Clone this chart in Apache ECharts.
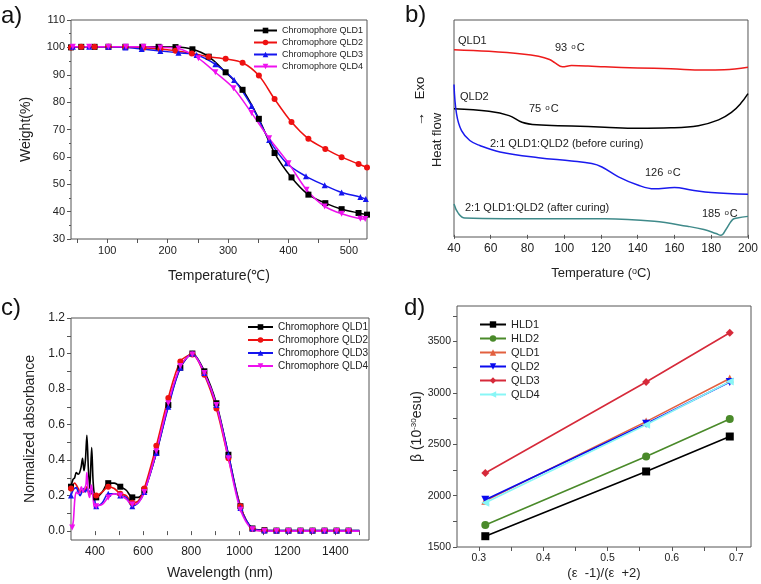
<!DOCTYPE html>
<html>
<head>
<meta charset="utf-8">
<script src="https://cdn.jsdelivr.net/npm/echarts@6/dist/echarts.min.js"></script>
<style>html,body{margin:0;padding:0;background:#fff}#main{width:761px;height:584px}</style>
</head>
<body>
<div id="main"></div>
<script>
// ---- data: a) TGA ----
var tgaNames = ['Chromophore QLD1', 'Chromophore QLD2', 'Chromophore QLD3', 'Chromophore QLD4'];
var tgaQLD1 = [[40,100],[57,100.2],[79,100.2],[102,100.2],[130,100.2],[158,100.2],[185,100.2],[213,100.1],[241,99.3],[268,96.6],[296,90.9],[324,84.5],[351,73.9],[377,61.4],[405,52.5],[433,46.2],[461,43.1],[488,40.9],[516,39.5],[530,38.9]];
var tgaQLD2 = [[40,100],[57,100.2],[79,100.2],[102,100.2],[130,100.1],[160,99.9],[188,99.4],[213,98.8],[240,97.8],[268,96.6],[296,95.8],[324,94.4],[351,89.7],[377,81.1],[405,72.7],[433,66.6],[461,62.9],[488,59.9],[516,57.4],[530,56.1]];
var tgaQLD3 = [[43,100.2],[70,100.2],[102,100.2],[130,100],[157,99.4],[188,98.7],[218,98],[248,97.2],[279,93.8],[310,88.1],[339,78.6],[368,66.2],[397,57.7],[429,52.9],[460,49.6],[488,47],[519,45.3],[528,44.6]];
var tgaQLD4 = [[43,100.2],[70,100.2],[102,100.2],[131,100.2],[160,100.2],[188,100],[218,99.6],[251,96],[279,90.9],[309,85.1],[339,76],[368,66.8],[400,57.7],[430,48],[460,41.9],[488,39.2],[519,37.4],[527,37.3]];

// ---- data: b) DSC (arbitrary heat flow units) ----
var dscQLD1 = [[40,86.2],[59,85.4],[77,84.2],[86,83.1],[92,81.6],[95,80.0],[99,78.2],[104,78.8],[113,78.6],[122,78.2],[140,77.7],[158,77.3],[176,76.7],[187,76.8],[200,78.0]];
var dscQLD2 = [[40,58.7],[59,57.5],[70,55.5],[77,52.4],[85,51.2],[104,50.7],[122,50.1],[140,49.6],[158,49.8],[173,50.8],[184,53.5],[191,57],[196,61.1],[200,65.7]];
var dscBefore = [[40,70],[41.4,56.2],[44.1,48.5],[48.6,43.9],[54,41.6],[65,38.6],[86,35.9],[104,34.4],[115,33.2],[120.5,31.6],[129.5,27],[140,23.2],[149,21.4],[160,22],[169,20.9],[180,19.7],[200,18.9]];
var dscAfter = [[40,14.4],[42.3,10.1],[45.9,7.8],[68,7.5],[122,7.5],[149,6.3],[167,4],[176,2.5],[182.6,0.6],[185.3,-0.2],[188,2.5],[191.6,7.1],[194.2,7.8],[200,8.6]];

// ---- data: c) UV-vis ----
var uvQLD1 = [[300,0.25],[308,0.29],[315,0.30],[322,0.33],[330,0.32],[336,0.33],[342,0.36],[348,0.41],[354,0.34],[360,0.40],[366,0.54],[372,0.36],[378,0.24],[386,0.47],[392,0.28],[398,0.20],[405,0.19],[430,0.22],[455,0.27],[480,0.27],[505,0.25],[530,0.23],[555,0.19],[580,0.19],[605,0.23],[655,0.44],[705,0.71],[755,0.92],[805,1.0],[855,0.90],[905,0.72],[955,0.43],[1005,0.14],[1055,0.015],[1105,0.005],[1155,0.003],[1205,0.003],[1255,0.003],[1305,0.003],[1355,0.003],[1405,0.003],[1455,0.003],[1500,0.003]];
var uvQLD2 = [[300,0.24],[308,0.26],[315,0.27],[322,0.26],[330,0.24],[338,0.22],[345,0.23],[352,0.22],[360,0.23],[366,0.25],[372,0.22],[380,0.21],[388,0.21],[396,0.20],[405,0.20],[430,0.22],[455,0.25],[480,0.24],[505,0.21],[530,0.20],[555,0.16],[580,0.17],[605,0.24],[655,0.48],[705,0.75],[755,0.955],[805,0.995],[855,0.88],[905,0.69],[955,0.41],[1005,0.14],[1055,0.012],[1105,0.003],[1155,0.002],[1205,0.002],[1255,0.002],[1305,0.002],[1355,0.002],[1405,0.002],[1455,0.002],[1500,0.002]];
var uvQLD3 = [[300,0.20],[308,0.23],[315,0.24],[322,0.245],[330,0.22],[338,0.20],[345,0.22],[352,0.24],[360,0.22],[368,0.24],[375,0.22],[382,0.23],[390,0.21],[398,0.18],[405,0.14],[430,0.16],[455,0.21],[480,0.21],[505,0.20],[530,0.19],[555,0.14],[580,0.16],[605,0.22],[655,0.44],[705,0.70],[755,0.92],[805,1.0],[855,0.89],[905,0.71],[955,0.43],[1005,0.13],[1055,0.015],[1105,0.003],[1155,0.003],[1205,0.003],[1255,0.003],[1305,0.003],[1355,0.003],[1405,0.003],[1455,0.003],[1500,0.003]];
var uvQLD4 = [[305,0.02],[310,0.06],[316,0.18],[322,0.22],[330,0.21],[336,0.22],[343,0.25],[350,0.22],[356,0.24],[362,0.26],[366,0.33],[372,0.22],[378,0.19],[384,0.26],[388,0.24],[394,0.16],[398,0.13],[405,0.14],[430,0.15],[455,0.19],[480,0.21],[505,0.20],[530,0.18],[555,0.15],[580,0.16],[605,0.22],[655,0.45],[705,0.72],[755,0.93],[805,0.995],[855,0.89],[905,0.71],[955,0.41],[1005,0.12],[1055,0.01],[1105,0.001],[1155,0],[1205,0],[1255,0],[1305,0],[1355,0],[1405,0],[1455,0],[1500,0]];

// ---- data: d) beta vs solvent polarity ----
var polarity = [0.31, 0.56, 0.69];
var betaNames = ['HLD1', 'HLD2', 'QLD1', 'QLD2', 'QLD3', 'QLD4'];
var betaHLD1 = [1605, 2235, 2575];
var betaHLD2 = [1715, 2380, 2745];
var betaQLD1 = [1950, 2720, 3140];
var betaQLD2 = [1960, 2700, 3105];
var betaQLD3 = [2220, 3105, 3585];
var betaQLD4 = [1930, 2690, 3110];

// tick labels
var tgaXTicks = [100, 200, 300, 400, 500];
var uvXTicks = [400, 600, 800, 1000, 1200, 1400];
var uvYTicks = [0, 0.2, 0.4, 0.6, 0.8, 1.0, 1.2];
var betaXTicks = [0.3, 0.4, 0.5, 0.6, 0.7];
var betaYTicks = [1500, 2000, 2500, 3000, 3500];

var FONT = 'Liberation Sans, Arial, sans-serif';
var TXT = '#222';
const Chart = echarts.init(document.getElementById('main'), null, {renderer: 'canvas'});

function plain(v) { return String(v); }

function valAxis(grid, opt) {
    var ax = {
        type: 'value',
        gridIndex: grid,
        scale: true,
        axisLine: {show: false},
        splitLine: {show: false},
        axisTick: {show: true, inside: false, length: 4, lineStyle: {color: '#555'}},
        axisLabel: {color: TXT, fontFamily: FONT, fontSize: 11, margin: 6, formatter: plain},
        nameLocation: 'middle',
        nameTextStyle: {color: TXT, fontFamily: FONT, fontSize: 14}
    };
    return echarts.util.merge(ax, opt, true);
}

function lineSeries(name, data, xi, color, symbol, rot, size, width) {
    return {
        type: 'line', name: name, data: data,
        xAxisIndex: xi, yAxisIndex: xi,
        smooth: 0.3,
        symbol: symbol, symbolRotate: rot, symbolSize: size,
        lineStyle: {color: color, width: width},
        itemStyle: {color: color},
        emphasis: {disabled: true},
        z: 3
    };
}

// only every 50 nm gets a marker in c)
function markEvery(arr) {
    return arr.map(function (p, i) {
        var keep = i === 0 || (p[0] >= 400 && (p[0] - 5) % 50 === 0);
        return keep ? {value: p} : {value: p, symbol: 'none'};
    });
}

var cols = ['#000000', '#ee1111', '#1515ee', '#ee11ee'];
var syms = ['rect', 'circle', 'triangle', 'triangle'];
var rots = [0, 0, 0, 180];
var tgaData = [tgaQLD1, tgaQLD2, tgaQLD3, tgaQLD4];
var uvData = [uvQLD1, uvQLD2, uvQLD3, uvQLD4];
var betaData = [betaHLD1, betaHLD2, betaQLD1, betaQLD2, betaQLD3, betaQLD4];
var betaCols = ['#000000', '#4a8a2a', '#e2603f', '#0a0aee', '#d62a3a', '#88f6f6'];
var betaSyms = ['rect', 'circle', 'triangle', 'triangle', 'diamond', 'triangle'];
var betaRots = [0, 0, 0, 180, 0, 90];

var series = [];
tgaData.forEach(function (d, i) {
    series.push(lineSeries(tgaNames[i], d, 0, cols[i], syms[i], rots[i], 6, 1.5));
});
uvData.forEach(function (d, i) {
    series.push(lineSeries(tgaNames[i], markEvery(d), 2, cols[i], syms[i], rots[i], 6, 1.6));
});
betaData.forEach(function (d, i) {
    var s = lineSeries(betaNames[i], d.map(function (v, j) { return [polarity[j], v]; }), 3,
        betaCols[i], betaSyms[i], betaRots[i], 8, 1.6);
    s.smooth = false;
    series.push(s);
});
var dscCols = ['#ee1c1c', '#000000', '#1a1aee', '#3f8a8a'];
[dscQLD1, dscQLD2, dscBefore, dscAfter].forEach(function (d, i) {
    var s = lineSeries('DSC ' + i, d, 1, dscCols[i], 'none', 0, 0, 1.5);
    s.smooth = 0.4;
    series.push(s);
});

var supRich = {s: {fontSize: 8, fontFamily: FONT, color: TXT, verticalAlign: 'top', padding: [0, 1, 0, 1]},
               n: {fontSize: 11, fontFamily: FONT, color: TXT}};
function note(x, y, txt) {
    return {type: 'text', x: x, y: y, z: 10,
        style: {text: txt, fill: TXT, font: '11px ' + FONT, textVerticalAlign: 'middle', rich: supRich}};
}
function panelTag(x, y, t) {
    return {type: 'text', x: x, y: y, z: 10, style: {text: t, fill: '#111', font: '24px ' + FONT}};
}

var option = {
    animation: false,
    backgroundColor: '#fff',
    grid: [
        {left: 71, top: 20, width: 296, height: 219, show: true, borderColor: '#555', borderWidth: 1},
        {left: 454, top: 20, width: 297, height: 217, show: true, borderColor: '#555', borderWidth: 1},
        {left: 71, top: 318, width: 298, height: 222, show: true, borderColor: '#555', borderWidth: 1},
        {left: 457, top: 306, width: 294, height: 241, show: true, borderColor: '#555', borderWidth: 1}
    ],
    xAxis: [
        valAxis(0, {min: 40, max: 530, name: 'Temperature(℃)', nameGap: 30,
            axisLabel: {customValues: tgaXTicks},
            axisTick: {customValues: [50, 100, 150, 200, 250, 300, 350, 400, 450, 500]}}),
        valAxis(1, {min: 40, max: 200, interval: 20, name: 'Temperature ({s|o}C)', nameGap: 30,
            axisLabel: {fontSize: 12},
            nameTextStyle: {fontSize: 13, rich: {s: {fontSize: 9, fontFamily: FONT, color: TXT, verticalAlign: 'top'}}}}),
        valAxis(2, {min: 300, max: 1540, name: 'Wavelength (nm)', nameGap: 26,
            axisLabel: {customValues: uvXTicks, fontSize: 12},
            axisTick: {customValues: [400, 500, 600, 700, 800, 900, 1000, 1100, 1200, 1300, 1400, 1500]}}),
        valAxis(3, {min: 0.266, max: 0.723, name: '(ε  -1)/(ε  +2)', nameGap: 20,
            axisLabel: {customValues: betaXTicks, fontSize: 10.5, formatter: function (v) { return v.toFixed(1); }},
            axisTick: {customValues: [0.3, 0.35, 0.4, 0.45, 0.5, 0.55, 0.6, 0.65, 0.7]},
            nameTextStyle: {fontSize: 13}})
    ],
    yAxis: [
        valAxis(0, {min: 30, max: 110, interval: 10, name: 'Weight(%)', nameGap: 38,
            minorTick: {show: true, splitNumber: 2, length: 2, lineStyle: {color: '#555'}}}),
        valAxis(1, {min: -1, max: 100, axisLabel: {show: false}, axisTick: {show: false}}),
        valAxis(2, {min: -0.05, max: 1.2, name: 'Normalized absorbance', nameGap: 34,
            axisLabel: {customValues: uvYTicks, fontSize: 12, formatter: function (v) { return v.toFixed(1); }},
            axisTick: {customValues: [0, 0.1, 0.2, 0.3, 0.4, 0.5, 0.6, 0.7, 0.8, 0.9, 1.0, 1.1, 1.2]}}),
        valAxis(3, {min: 1500, max: 3845, name: 'β (10{s|-30}esu)', nameGap: 32,
            axisLabel: {customValues: betaYTicks, fontSize: 10.5},
            axisTick: {customValues: [1500, 1750, 2000, 2250, 2500, 2750, 3000, 3250, 3500, 3750]},
            nameTextStyle: {fontSize: 14, rich: {s: {fontSize: 8, fontFamily: FONT, color: TXT, verticalAlign: 'top'}}}})
    ],
    legend: [
        {data: tgaNames, orient: 'vertical', left: 253, top: 26, padding: 0, itemWidth: 23, itemHeight: 7, itemGap: 3,
            textStyle: {fontSize: 9, color: TXT, fontFamily: FONT}},
        {data: tgaNames, orient: 'vertical', left: 247, top: 322, padding: 0, itemWidth: 25, itemHeight: 7, itemGap: 3,
            textStyle: {fontSize: 10, color: TXT, fontFamily: FONT}},
        {data: betaNames, orient: 'vertical', left: 479, top: 319, padding: 0, itemWidth: 26, itemHeight: 8, itemGap: 3,
            textStyle: {fontSize: 11, color: TXT, fontFamily: FONT}}
    ],
    graphic: [
        panelTag(1, 4, 'a)'), panelTag(405, 3, 'b)'), panelTag(1, 296, 'c)'), panelTag(404, 296, 'd)'),
        note(458, 41, 'QLD1'),
        note(555, 48, '{n|93 }{s|o}{n|C}'),
        note(460, 97, 'QLD2'),
        note(529, 109, '{n|75 }{s|o}{n|C}'),
        note(490, 144, '2:1 QLD1:QLD2 (before curing)'),
        note(645, 173, '{n|126 }{s|o}{n|C}'),
        note(465, 208, '2:1 QLD1:QLD2 (after curing)'),
        note(702, 214, '{n|185 }{s|o}{n|C}'),
        {type: 'text', x: 420, y: 88, rotation: Math.PI / 2, z: 10,
            style: {text: 'Exo', fill: TXT, font: '13px ' + FONT, textAlign: 'center', textVerticalAlign: 'middle'}},
        {type: 'text', x: 420, y: 119, rotation: Math.PI / 2, z: 10,
            style: {text: '→', fill: TXT, font: '14px ' + FONT, textAlign: 'center', textVerticalAlign: 'middle'}},
        {type: 'text', x: 437, y: 140, rotation: Math.PI / 2, z: 10,
            style: {text: 'Heat flow', fill: TXT, font: '13px ' + FONT, textAlign: 'center', textVerticalAlign: 'middle'}}
    ],
    series: series
};

Chart.setOption(option, true);
</script>
</body>
</html>
